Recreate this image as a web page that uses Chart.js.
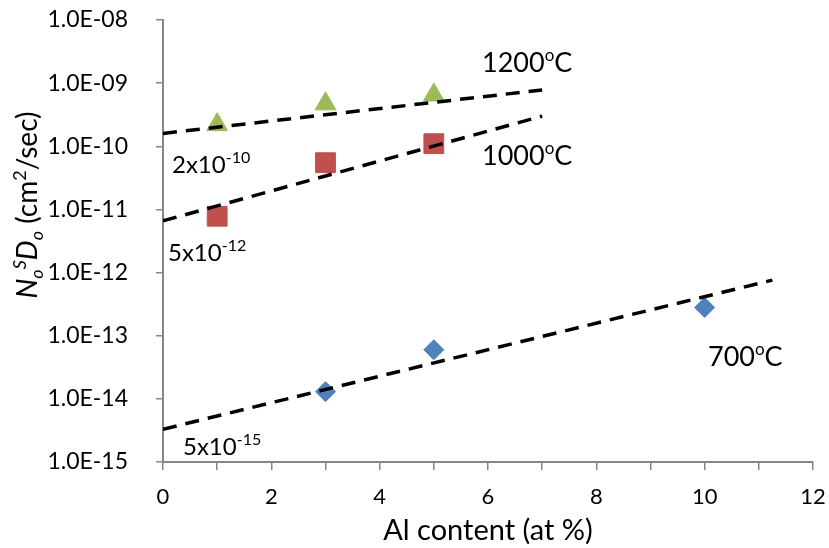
<!DOCTYPE html>
<html>
<head>
<meta charset="utf-8">
<script src="https://cdn.jsdelivr.net/npm/chart.js@4.4.0/dist/chart.umd.min.js"></script>
<style>
  html, body { margin: 0; padding: 0; background: #fff; }
</style>
</head>
<body>
<canvas id="myChart" width="829" height="548"></canvas>
<script>
/* data */
const yTicks = [1e-15, 1e-14, 1e-13, 1e-12, 1e-11, 1e-10, 1e-9, 1e-8];

const al1200 = [1, 3, 5];
const d1200 = [2.2e-10, 4.7e-10, 6.5e-10];
const al1000 = [1, 3, 5];
const d1000 = [7.8e-12, 5.5e-11, 1.1e-10];
const al700 = [3, 5, 10];
const d700 = [1.3e-14, 6.0e-14, 2.8e-13];

// trend lines (start / end as drawn)
const fitX1200 = [0, 7];
const fit1200 = [1.6e-10, 7.8e-10];
const fitX1000 = [0, 7];
const fit1000 = [6.6e-12, 3.0e-10];
const fitX700 = [0, 11.25];
const fit700 = [3.3e-15, 7.6e-13];

const FONT = 'Lato, "Open Sans", sans-serif';
const AXIS = '#868686';

function pts(xs, ys){
  return xs.map((x, i) => ({x: x, y: ys[i]}));
}

function fmtExp(v){
  let s = v.toExponential(1).toUpperCase();   // 1.0E-8
  return s.replace(/E([+-])(\d)$/, 'E$10$2');
}

// draw text made of pieces (subscripts, superscripts, italics)
function richText(ctx, parts, x, y){
  let cx = x;
  parts.forEach(p => {
    ctx.font = (p.italic ? 'italic ' : '') + p.size + 'px ' + FONT;
    ctx.fillText(p.t, cx, y + (p.dy || 0));
    cx += ctx.measureText(p.t).width;
  });
  return cx - x;
}
function richWidth(ctx, parts){
  let w = 0;
  parts.forEach(p => {
    ctx.font = (p.italic ? 'italic ' : '') + p.size + 'px ' + FONT;
    w += ctx.measureText(p.t).width;
  });
  return w;
}

const deg = (n) => [{t: n, size: 27}, {t: 'o', size: 17, dy: -11}, {t: 'C', size: 27}];
const sci = (m, e) => [{t: m + 'x10', size: 24}, {t: e, size: 16, dy: -10}];

const notes = [
  {parts: deg('1200'), x: 482, y: 72},
  {parts: deg('1000'), x: 482, y: 165},
  {parts: deg('700'), x: 708, y: 366},
  {parts: sci('2', '-10'), x: 172, y: 173},
  {parts: sci('5', '-12'), x: 168, y: 261},
  {parts: sci('5', '-15'), x: 183, y: 455}
];

const yTitle = [
  {t: 'N', size: 28, italic: true},
  {t: 'o', size: 18, italic: true, dy: 6},
  {t: 'S', size: 18, italic: true, dy: -11},
  {t: 'D', size: 28, italic: true},
  {t: 'o', size: 18, italic: true, dy: 6},
  {t: ' (cm', size: 28},
  {t: '2', size: 18, dy: -11},
  {t: '/sec)', size: 28}
];

const labelsPlugin = {
  id: 'labels',
  afterDraw(chart){
    const ctx = chart.ctx;
    ctx.save();
    ctx.fillStyle = '#000';
    ctx.textBaseline = 'alphabetic';
    ctx.textAlign = 'left';
    notes.forEach(n => richText(ctx, n.parts, n.x, n.y));

    // y axis title, rotated
    const w = richWidth(ctx, yTitle);
    ctx.translate(37, 205);
    ctx.rotate(-Math.PI / 2);
    richText(ctx, yTitle, -w / 2, 0);
    ctx.restore();
  }
};

const ctx = document.getElementById('myChart');

const myChart = new Chart(ctx, {
  type: 'scatter',
  plugins: [labelsPlugin],
  data: {
    datasets: [
      {label: '1200', data: pts(al1200, d1200), pointStyle: 'triangle', pointRadius: 12,
        backgroundColor: '#9BBB59', borderColor: '#9BBB59', borderWidth: 1, order: 2},
      {label: '1000', data: pts(al1000, d1000), pointStyle: 'rect', pointRadius: 14,
        backgroundColor: '#C0504D', borderColor: '#C0504D', borderWidth: 1, order: 2},
      {label: '700', data: pts(al700, d700), pointStyle: 'rectRot', pointRadius: 10,
        backgroundColor: '#4F81BD', borderColor: '#4F81BD', borderWidth: 1, order: 2},
      {type: 'line', data: pts(fitX1200, fit1200), borderColor: '#000', borderWidth: 3.5,
        borderDash: [14, 9], pointRadius: 0, fill: false, order: 1},
      {type: 'line', data: pts(fitX1000, fit1000), borderColor: '#000', borderWidth: 3.5,
        borderDash: [14, 9], pointRadius: 0, fill: false, order: 1},
      {type: 'line', data: pts(fitX700, fit700), borderColor: '#000', borderWidth: 3.5,
        borderDash: [14, 9], pointRadius: 0, fill: false, order: 1}
    ]
  },
  options: {
    responsive: false,
    animation: false,
    events: [],
    layout: {
      padding: {top: 20, right: 16, left: 0, bottom: 0}
    },
    plugins: {
      legend: {display: false},
      tooltip: {enabled: false}
    },
    scales: {
      x: {
        type: 'linear',
        min: 0,
        max: 12,
        afterFit: function(scale){
          scale.height = 86;
          scale.paddingLeft = 0;
          scale.paddingRight = 0;
        },
        ticks: {
          stepSize: 1,
          autoSkip: false,
          maxRotation: 0,
          padding: 14,
          color: '#000',
          font: {family: FONT, size: 22},
          callback: (v) => (v % 2 === 0 ? String(v) : '')
        },
        grid: {drawOnChartArea: false, tickLength: 8, color: AXIS, lineWidth: 1.5},
        border: {color: AXIS, width: 2},
        title: {
          display: true,
          text: 'Al content (at %)',
          color: '#000',
          font: {family: FONT, size: 29},
          padding: {top: 0, bottom: 0}
        }
      },
      y: {
        type: 'logarithmic',
        min: 1e-15,
        max: 1e-8,
        afterFit: function(scale){
          scale.width = 163;
          scale.paddingTop = 0;
          scale.paddingBottom = 0;
        },
        afterBuildTicks: function(scale){
          scale.ticks = yTicks.map(v => ({value: v}));
        },
        ticks: {
          padding: 28,
          color: '#000',
          font: {family: FONT, size: 23},
          callback: (v) => fmtExp(v)
        },
        grid: {drawOnChartArea: false, tickLength: 7, color: AXIS, lineWidth: 1.5},
        border: {color: AXIS, width: 2}
      }
    }
  }
});
</script>
</body>
</html>
